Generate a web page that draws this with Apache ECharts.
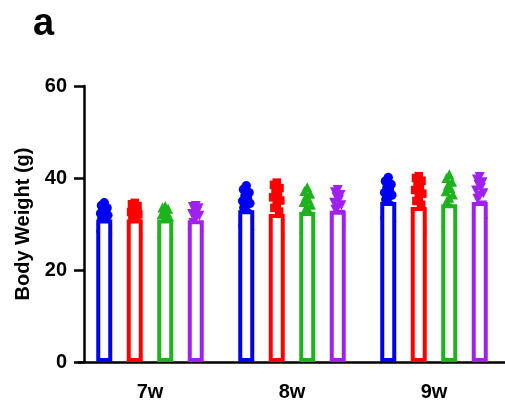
<!DOCTYPE html>
<html>
<head>
<meta charset="utf-8">
<script src="https://cdn.jsdelivr.net/npm/echarts@6/dist/echarts.min.js"></script>
<style>
  html, body { margin: 0; padding: 0; background: #fff; }
  #chart { width: 505px; height: 405px; }
</style>
</head>
<body>
<div id="chart"></div>
<script>
// Weeks on the x axis
const categories = ['7w', '8w', '9w'];
const yTicks = [0, 20, 40, 60];

// Group means (bar heights), one value per week
const meanG1 = [31.0, 33.0, 34.8];
const meanG2 = [31.0, 32.2, 33.7];
const meanG3 = [31.0, 32.6, 34.3];
const meanG4 = [30.8, 32.9, 34.8];

// Individual animals, per week
const ptsG1 = [
  [34.6, 34.0, 33.5, 33.1, 32.7, 32.3, 31.9, 31.5, 31.1, 30.4, 29.7, 29.0, 28.4, 27.9],
  [38.3, 37.5, 36.8, 36.2, 35.6, 35.0, 34.5, 34.0, 33.5, 32.3, 31.2, 30.3, 29.5, 28.8],
  [40.1, 39.3, 38.6, 38.0, 37.4, 36.8, 36.3, 35.8, 35.3, 34.0, 33.0, 32.1, 31.3, 30.6]
];
const ptsG2 = [
  [34.6, 34.3, 33.9, 33.5, 33.0, 32.6, 32.1, 31.7, 31.2, 30.3, 29.4, 28.6, 27.9, 27.4],
  [39.0, 38.5, 37.8, 37.2, 36.5, 35.8, 35.1, 34.3, 33.5, 32.7, 31.0, 29.6, 28.4, 27.4],
  [40.4, 40.0, 39.4, 38.8, 38.1, 37.4, 36.6, 35.8, 35.0, 34.2, 32.3, 30.8, 29.5, 28.4]
];
const ptsG3 = [
  [33.9, 33.6, 33.3, 32.9, 32.5, 32.1, 31.7, 31.3, 30.5, 29.8, 29.1, 28.5, 28.0, 27.6],
  [38.0, 37.2, 36.6, 36.0, 35.4, 34.8, 34.2, 33.6, 33.0, 31.8, 30.8, 29.9, 29.2, 28.6],
  [40.8, 40.0, 39.2, 38.5, 37.8, 37.1, 36.4, 35.7, 35.0, 33.5, 32.3, 31.3, 30.4, 29.6]
];
const ptsG4 = [
  [33.9, 33.7, 33.4, 33.0, 32.6, 32.2, 31.8, 31.3, 30.2, 29.5, 28.9, 28.3, 27.8, 27.4],
  [37.4, 36.9, 36.3, 35.8, 35.2, 34.6, 34.1, 33.6, 33.1, 32.0, 31.1, 30.3, 29.6, 29.0],
  [40.2, 39.7, 39.1, 38.5, 37.9, 37.3, 36.7, 36.1, 35.5, 34.0, 32.9, 31.8, 31.0, 30.3]
];

const groupNames = ['G1', 'G2', 'G3', 'G4'];
const groupColors = ['#0000f0', '#ff0000', '#1cb31c', '#a020f0'];
const groupSymbols = ['circle', 'rect', 'triangle', 'path://M0,0L10,0L5,10Z'];
const groupSymbolSizes = [9.5, 8.5, 10, 10];

// Layout
const W = 505, H = 405;
const GRID = { left: 79, right: 0, top: 86, bottom: 43 };
const BAR_W = 16;        // bar width, px
const BAR_STEP = 30.5;   // distance between neighbouring bar centres, px
const SPREAD = 4;        // horizontal scatter half-spread, px
const JITTER = [0, -0.7, 0.7, -0.3, 0.3, -0.9, 0.9, 0, -0.6, 0.6, -0.2, 0.2, -0.8, 0.8];

const bandPx = (W - GRID.left - GRID.right) / categories.length;
const FONT = 'Liberation Sans, Arial, sans-serif';

const means = [meanG1, meanG2, meanG3, meanG4];
const pts = [ptsG1, ptsG2, ptsG3, ptsG4];

const series = [];
groupNames.forEach((name, k) => {
  series.push({
    name: name,
    type: 'bar',
    xAxisIndex: 0,
    yAxisIndex: 0,
    data: means[k],
    barWidth: BAR_W,
    barGap: ((BAR_STEP - BAR_W) / BAR_W * 100) + '%',
    z: 5,
    itemStyle: { color: '#ffffff', borderColor: groupColors[k], borderWidth: 4 },
    emphasis: { disabled: true },
    silent: true
  });
});
groupNames.forEach((name, k) => {
  const data = [];
  const centrePx = (k - (groupNames.length - 1) / 2) * BAR_STEP;
  pts[k].forEach((vals, i) => {
    vals.forEach((v, j) => {
      data.push([i + (centrePx + JITTER[j % JITTER.length] * SPREAD) / bandPx, v]);
    });
  });
  series.push({
    name: name + ' points',
    type: 'scatter',
    xAxisIndex: 1,
    yAxisIndex: 0,
    data: data,
    symbol: groupSymbols[k],
    symbolSize: groupSymbolSizes[k],
    z: 3,
    itemStyle: { color: groupColors[k], opacity: 1 },
    emphasis: { disabled: true },
    silent: true
  });
});

const chart = echarts.init(document.getElementById('chart'), null, { renderer: 'canvas' });
chart.setOption({
  animation: false,
  backgroundColor: '#ffffff',
  title: {
    text: 'a',
    left: 28,
    top: 1,
    textStyle: { fontFamily: FONT, fontWeight: 'bold', fontSize: 38, color: '#000' }
  },
  grid: GRID,
  xAxis: [
    {
      type: 'category',
      data: categories,
      axisLine: { lineStyle: { color: '#000', width: 2.5 } },
      axisTick: { alignWithLabel: true, length: 10, lineStyle: { color: '#000', width: 2.5 } },
      axisLabel: { fontFamily: FONT, fontWeight: 'bold', fontSize: 20, color: '#000', margin: 20 },
      splitLine: { show: false }
    },
    {
      type: 'value',
      min: -0.5,
      max: categories.length - 0.5,
      show: false
    }
  ],
  yAxis: {
    type: 'value',
    min: yTicks[0],
    max: yTicks[yTicks.length - 1],
    interval: yTicks[1] - yTicks[0],
    offset: -5,
    name: 'Body Weight (g)',
    nameLocation: 'middle',
    nameGap: 48,
    nameTextStyle: { fontFamily: FONT, fontWeight: 'bold', fontSize: 20, color: '#000' },
    axisLine: { show: true, onZero: false, lineStyle: { color: '#000', width: 2.5 } },
    axisTick: { show: true, length: 10, lineStyle: { color: '#000', width: 2.5 } },
    axisLabel: { fontFamily: FONT, fontWeight: 'bold', fontSize: 20, color: '#000', margin: 17 },
    splitLine: { show: false }
  },
  series: series
});
</script>
</body>
</html>
